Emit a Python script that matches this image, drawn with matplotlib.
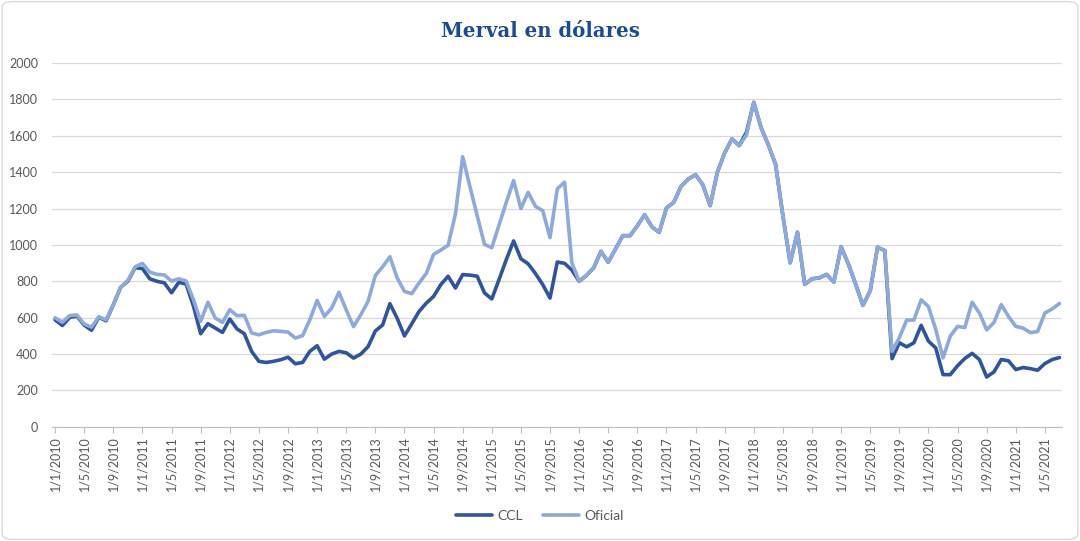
import matplotlib

matplotlib.use("Agg")
import matplotlib.patches as mpatches  # noqa: E402
import matplotlib.pyplot as plt  # noqa: E402

# monthly values, Jan 2010 .. Jul 2021
start_year = 2010
oficial = [
    600, 575, 612, 615, 565, 548, 605, 588, 672, 767, 805, 880,
    898, 851, 838, 835, 801, 814, 802, 700, 580, 685, 598, 574,
    644, 611, 613, 516, 506, 519, 528, 525, 521, 488, 501, 589,
    695, 607, 653, 740, 643, 551, 616, 690, 832, 880, 935, 819,
    745, 732, 791, 843, 948, 972, 998, 1169, 1485, 1320, 1160, 1003,
    985, 1110, 1235, 1354, 1200, 1289, 1212, 1188, 1040, 1308, 1345, 903,
    800, 832, 874, 965, 905, 978, 1051, 1051, 1105, 1166, 1099, 1069,
    1203, 1234, 1322, 1362, 1386, 1331, 1216, 1400, 1506, 1583, 1546, 1605,
    1784, 1645, 1550, 1442, 1160, 902, 1070, 783, 814, 819, 838, 796,
    990, 895, 784, 668, 748, 987, 969, 415, 490, 587, 587, 698,
    661, 536, 379, 499, 552, 546, 685, 626, 533, 574, 672, 607,
    552, 543, 518, 524, 626, 648, 678,
]
ccl = [
    588, 557, 602, 609, 559, 531, 602, 583, 671, 767, 801, 875,
    870, 814, 800, 792, 737, 795, 785, 665, 512, 567, 543, 519,
    593, 538, 512, 415, 360, 354, 360, 369, 383, 347, 354, 415,
    446, 372, 400, 415, 407, 378, 400, 441, 527, 560, 677, 597,
    500, 566, 634, 680, 717, 782, 828, 763, 837, 834, 828, 736,
    703, 810, 920, 1022, 924, 896, 843, 782, 708, 906, 899, 862,
    800, 832, 874, 965, 905, 978, 1051, 1051, 1105, 1166, 1099, 1069,
    1203, 1234, 1322, 1362, 1386, 1331, 1216, 1400, 1506, 1583, 1546, 1620,
    1784, 1645, 1550, 1442, 1160, 902, 1070, 783, 814, 819, 838, 796,
    990, 895, 784, 668, 748, 987, 969, 375, 462, 440, 462, 558,
    471, 434, 287, 287, 336, 376, 404, 370, 274, 302, 370, 363,
    315, 326, 320, 311, 348, 370, 381,
]
n = len(oficial)
months = list(range(n))
tick_pos = list(range(0, n, 4))
tick_labels = [f"1/{m % 12 + 1}/{start_year + m // 12}" for m in tick_pos]

dark, light, grey = "#2F55A0", "#8EA9DB", "#595959"
plt.rcParams["font.family"] = ["Lato", "DejaVu Sans"]

fig = plt.figure(figsize=(10.8, 5.41), dpi=100)
fig.patches.append(
    mpatches.FancyBboxPatch(
        (0.002, 0.003), 0.996, 0.994, boxstyle="round,pad=0,rounding_size=0.01",
        transform=fig.transFigure, fc="white", ec="#D9D9D9", lw=1.0, zorder=-5,
    )
)
ax = fig.add_axes([0.048, 0.211, 0.935, 0.6725])

ax.plot(months, ccl, color=dark, lw=2.6, label="CCL", solid_capstyle="round", zorder=3)
ax.plot(months, oficial, color=light, lw=2.6, label="Oficial", solid_capstyle="round", zorder=4)

ax.set_ylim(0, 2000)
ax.set_xlim(-0.45, n - 1 + 0.3)
ax.set_yticks(range(0, 2001, 200))
ax.set_xticks(tick_pos)
ax.set_xticklabels(tick_labels, rotation=90)
ax.tick_params(axis="y", length=0, labelsize=9, labelcolor=grey, pad=10)
ax.tick_params(axis="x", length=4, color="#BFBFBF", labelsize=9, labelcolor=grey, pad=3)
ax.grid(axis="y", color="#D9D9D9", lw=0.9)
ax.set_axisbelow(True)
for side in ["top", "right", "left"]:
    ax.spines[side].set_visible(False)
ax.spines["bottom"].set_color("#BFBFBF")

fig.text(0.5, 0.943, "Merval en dólares", ha="center", va="center", fontsize=14.2,
         weight="bold", color="#1B4A96", family="DejaVu Serif")

fig.legend(loc="center", bbox_to_anchor=(0.5, 0.047), ncol=2, frameon=False,
           fontsize=10, labelcolor=grey, handlelength=2.6, columnspacing=1.4,
           handletextpad=0.4)

fig.savefig("out.png", dpi=100)
